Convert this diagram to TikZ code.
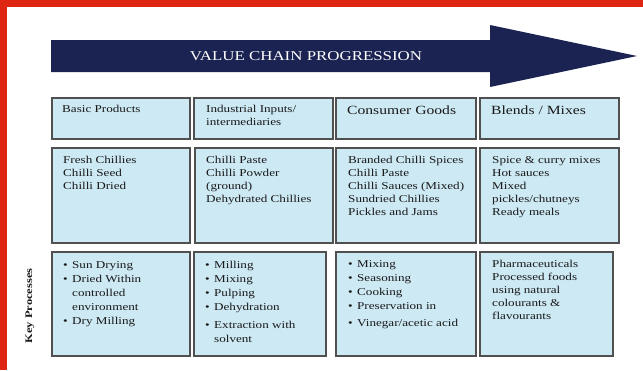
\documentclass[tikz,border=0pt]{standalone}
\usepackage{fontspec}
\setmainfont[FakeStretch=1.25]{Liberation Serif}
\definecolor{redband}{RGB}{222,38,18}
\definecolor{navy}{RGB}{26,35,82}
\definecolor{cellfill}{RGB}{205,233,244}
\definecolor{cellline}{RGB}{80,80,80}
\definecolor{ink}{RGB}{25,25,25}
\newcommand{\itm}{\makebox[9pt][l]{\textbullet}}
\newcommand{\ind}{\hspace*{9pt}}
\newcommand{\lines}[1]{\begin{tabular}[t]{@{}l@{}}#1\end{tabular}}

\begin{document}
\begin{tikzpicture}[x=1pt,y=-1pt,
    cell/.style={draw=cellline, line width=1.7pt, fill=cellfill, anchor=north west, inner sep=0pt},
    txt/.style={anchor=base west, inner sep=0pt, text=ink, font=\fontsize{10.5}{13}\selectfont},
    head/.style={txt, font=\fontsize{12.5}{15}\selectfont},
    proc/.style={txt, font=\fontsize{10.5}{14}\selectfont}]

    \useasboundingbox (0,0) rectangle (643,370);
    \fill[white] (0,0) rectangle (643,370);
    \fill[redband] (0,0) rectangle (643,7);
    \fill[redband] (0,0) rectangle (7,370);

    \fill[navy] (51,40) -- (490,40) -- (490,25) -- (637,56) -- (490,87) -- (490,72) -- (51,72) -- cycle;
    \node[text=white, font=\fontsize{13.5}{15}\selectfont] (vcp) at (306,56) {VALUE CHAIN PROGRESSION};

    \node[cell, minimum width=138pt, minimum height=41pt] (basic) at (51,97) {};
    \node[cell, minimum width=139pt, minimum height=41pt] (inputs) at (193,97) {};
    \node[cell, minimum width=140pt, minimum height=41pt] (consumer) at (335,97) {};
    \node[cell, minimum width=139pt, minimum height=41pt] (blends) at (479,97) {};

    \node[txt] (basic-t) at (62,112.5) {Basic Products};
    \node[txt] (inputs-t) at (206,112.5) {\lines{Industrial Inputs/\\intermediaries}};
    \node[head] (consumer-t) at (347,114.5) {Consumer Goods};
    \node[head] (blends-t) at (491,114.5) {Blends / Mixes};

    \node[cell, minimum width=138pt, minimum height=95pt] (basic-p) at (51,147) {};
    \node[cell, minimum width=138pt, minimum height=95pt] (inputs-p) at (194,147) {};
    \node[cell, minimum width=140pt, minimum height=95pt] (consumer-p) at (335,147) {};
    \node[cell, minimum width=139pt, minimum height=95pt] (blends-p) at (479,147) {};

    \node[txt] (basic-pt) at (63,163.5) {\lines{Fresh Chillies\\Chilli Seed\\Chilli Dried}};
    \node[txt] (inputs-pt) at (206,163.5) {\lines{Chilli Paste\\Chilli Powder\\(ground)\\Dehydrated Chillies}};
    \node[txt] (consumer-pt) at (348,163.5) {\lines{Branded Chilli Spices\\Chilli Paste\\Chilli Sauces (Mixed)\\Sundried Chillies\\Pickles and Jams}};
    \node[txt] (blends-pt) at (492,163.5) {\lines{Spice \& curry mixes\\Hot sauces\\Mixed\\pickles/chutneys\\Ready meals}};

    \node[cell, minimum width=138pt, minimum height=104pt] (basic-k) at (51,251) {};
    \node[cell, minimum width=132pt, minimum height=104pt] (inputs-k) at (193,251) {};
    \node[cell, minimum width=140pt, minimum height=104pt] (consumer-k) at (335,251) {};
    \node[cell, minimum width=133pt, minimum height=104pt] (blends-k) at (479,251) {};

    \node[proc] (basic-kt) at (63,268.5) {\lines{\itm Sun Drying\\\itm Dried Within\\\ind controlled\\\ind environment\\\itm Dry Milling}};
    \node[proc] (inputs-kt) at (205,268.5) {\lines{\itm Milling\\\itm Mixing\\\itm Pulping\\\itm Dehydration\\[4pt]\itm Extraction with\\\ind solvent}};
    \node[proc] (consumer-kt) at (348,267.5) {\lines{\itm Mixing\\\itm Seasoning\\\itm Cooking\\\itm Preservation in\\[3pt]\itm Vinegar/acetic acid}};
    \node[txt] (blends-kt) at (492,267.5) {\lines{Pharmaceuticals\\Processed foods\\using natural\\colourants \&\\flavourants}};

    \node[rotate=90, text=ink, font=\bfseries\fontsize{10}{12}\selectfont] (keyproc) at (30,306) {Key Processes};

\end{tikzpicture}
\end{document}
